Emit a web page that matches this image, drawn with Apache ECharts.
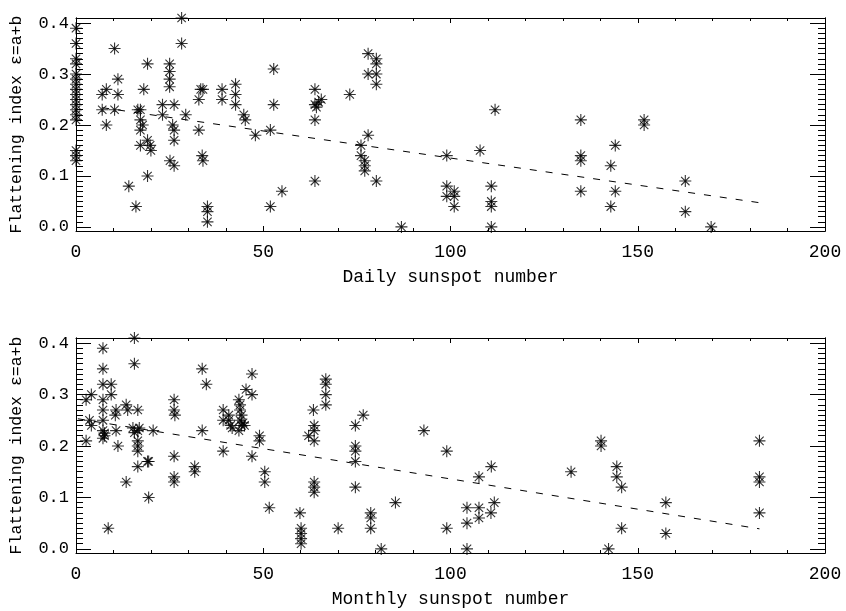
<!DOCTYPE html>
<html>
<head>
<meta charset="utf-8">
<script src="https://cdn.jsdelivr.net/npm/echarts@6/dist/echarts.min.js"></script>
<style>
  html, body { margin: 0; padding: 0; background: #fff; }
  #chart { width: 846px; height: 611px; }
</style>
</head>
<body>
<div id="chart"></div>
<script>
// flattening index vs daily sunspot number, [sunspot, epsilon]
const dailyPoints = [
  [0,0.39],[0,0.36],[0,0.33],[0,0.32],[0,0.30],[0,0.29],[0,0.28],[0,0.27],[0,0.26],
  [0,0.25],[0,0.24],[0,0.23],[0,0.22],[0,0.21],[0,0.15],[0,0.14],[0,0.13],
  [7.0,0.26],[8.1,0.27],[7.0,0.23],[8.1,0.20],[10.3,0.35],[11.2,0.29],[11.2,0.26],[10.3,0.23],
  [14.1,0.08],[16.0,0.04],[16.5,0.23],[17.2,0.23],[17.2,0.21],[17.8,0.20],[17.2,0.19],[17.2,0.16],
  [18.1,0.27],[19.1,0.32],[19.1,0.17],[19.8,0.16],[20.0,0.15],[19.1,0.10],[23.1,0.24],[23.1,0.22],
  [25.0,0.32],[25.0,0.305],[25.0,0.29],[25.0,0.275],[26.2,0.24],[25.8,0.20],[26.2,0.19],[26.2,0.17],
  [25.1,0.13],[26.2,0.12],[28.2,0.41],[28.2,0.36],[29.3,0.22],[32.8,0.25],[33.3,0.27],[33.9,0.27],
  [32.8,0.19],[33.7,0.14],[33.9,0.13],[35.1,0.04],[35.1,0.03],[35.1,0.01],[39.0,0.27],[39.0,0.25],
  [42.6,0.28],[42.6,0.26],[42.6,0.24],[44.8,0.22],[45.2,0.21],[47.9,0.18],[51.9,0.19],[51.9,0.04],
  [52.8,0.31],[52.8,0.24],[55.0,0.07],[63.8,0.27],[63.8,0.24],[64.2,0.235],[64.8,0.245],[65.5,0.25],
  [63.8,0.21],[63.8,0.09],[73.1,0.26],[78.0,0.34],[80.2,0.33],[80.2,0.32],[78.0,0.30],[80.2,0.30],
  [80.2,0.28],[78.0,0.18],[76.1,0.16],[76.1,0.14],[77.1,0.13],[77.1,0.12],[77.1,0.11],[80.2,0.09],
  [86.9,0.0],[99.0,0.14],[99.0,0.08],[99.0,0.06],[101.0,0.07],[101.0,0.06],[101.0,0.04],[107.9,0.15],
  [110.9,0.08],[110.9,0.05],[110.9,0.04],[110.9,0.0],[111.9,0.23],[134.8,0.21],[134.8,0.14],[134.8,0.13],
  [134.8,0.07],[144.0,0.16],[142.8,0.12],[144.0,0.07],[142.8,0.04],[151.7,0.21],[151.7,0.20],
  [162.7,0.09],[162.7,0.03],[169.6,0.0]
];

// flattening index vs monthly sunspot number
const monthlyPoints = [
  [2.7,0.29],[4.1,0.30],[2.7,0.21],[3.6,0.25],[4.1,0.24],
  [7.2,0.39],[7.2,0.35],[7.2,0.32],[9.4,0.32],[7.2,0.29],[9.4,0.30],[7.2,0.27],[7.2,0.25],
  [7.2,0.23],[7.6,0.225],[7.6,0.22],[7.2,0.215],[8.6,0.04],
  [10.7,0.27],[10.5,0.26],[10.7,0.23],[11.2,0.20],[13.4,0.28],[13.8,0.27],[13.4,0.13],
  [15.6,0.41],[15.6,0.36],[16.5,0.27],[15.2,0.235],[15.6,0.226],[16.5,0.23],[16.9,0.235],
  [16.5,0.21],[16.5,0.20],[16.5,0.19],[16.5,0.16],[19.1,0.17],[19.4,0.17],[19.4,0.10],[20.6,0.23],
  [26.2,0.29],[26.2,0.27],[26.4,0.26],[26.2,0.18],[26.2,0.14],[26.2,0.13],[31.7,0.16],[31.7,0.15],
  [33.7,0.35],[34.8,0.32],[33.7,0.23],
  [39.3,0.27],[39.3,0.25],[39.3,0.19],[40.8,0.26],[40.8,0.25],[41.3,0.24],[41.7,0.235],
  [43.5,0.29],[43.8,0.28],[43.8,0.27],[44.2,0.26],[43.8,0.25],[44.2,0.24],[43.5,0.23],[44.6,0.245],[45.0,0.24],
  [47.0,0.34],[45.4,0.31],[47.0,0.30],[47.0,0.18],[49.0,0.22],[49.0,0.21],[50.4,0.15],[50.4,0.13],[51.6,0.08],
  [59.8,0.07],[60.1,0.04],[60.1,0.03],[60.1,0.02],[60.1,0.01],
  [63.4,0.27],[63.6,0.24],[63.6,0.23],[63.6,0.21],[62.1,0.22],[63.6,0.13],[63.6,0.12],[63.6,0.11],
  [66.7,0.33],[66.7,0.32],[66.7,0.30],[66.7,0.28],[70.0,0.04],[74.6,0.24],[76.7,0.26],[74.6,0.20],
  [74.6,0.19],[74.6,0.17],[74.6,0.12],
  [78.7,0.07],[78.7,0.06],[78.7,0.04],[81.5,0.0],[85.3,0.09],[92.9,0.23],[99.0,0.19],[99.0,0.04],
  [104.4,0.08],[104.4,0.05],[104.4,0.0],[107.6,0.14],[107.6,0.08],[107.6,0.06],[110.9,0.16],
  [111.7,0.09],[110.8,0.07],
  [132.2,0.15],[140.2,0.21],[140.2,0.20],[144.4,0.16],[144.4,0.14],[145.7,0.12],[145.7,0.04],
  [142.2,0.0],[157.5,0.09],[157.5,0.03],
  [182.5,0.21],[182.5,0.14],[182.5,0.13],[182.5,0.07]
];

// fitted lines (end points)
const dailyFit = [[7, 0.234], [183, 0.047]];
const monthlyFit = [[0.5, 0.253], [182.5, 0.039]];

const yMajorTicks = [0, 0.1, 0.2, 0.3, 0.4];
const xTitles = ['Daily sunspot number', 'Monthly sunspot number'];
const yTitle = 'Flattening index \u03b5=a+b';

const FONT = 'Liberation Mono';
const yMinorTicks = [];
for (let i = 0; i <= 41; i++) yMinorTicks.push(+(i * 0.01).toFixed(2));

// asterisk like IDL psym=2, with a small filled core
const STAR = 'path://M0,5L10,5M5,0L5,10M1.5,1.5L8.5,8.5M8.5,1.5L1.5,8.5M4.3,4.3L5.7,4.3L5.7,5.7L4.3,5.7Z';

const line = { show: true, onZero: false, lineStyle: { color: '#000', width: 1 } };

function xAxes(g, title) {
  const base = {
    type: 'value', gridIndex: g, min: 0, max: 200, interval: 50,
    axisLine: line, splitLine: { show: false },
    axisTick: { inside: true, length: 5, lineStyle: { color: '#000' } },
    minorTick: { show: true, splitNumber: 5, length: 3, lineStyle: { color: '#000' } }
  };
  return [
    Object.assign({}, base, {
      position: 'bottom',
      axisLabel: { color: '#000', fontSize: 18, fontFamily: FONT, margin: 12 },
      name: title, nameLocation: 'middle', nameGap: 37,
      nameTextStyle: { color: '#000', fontSize: 18, fontFamily: FONT }
    }),
    Object.assign({}, base, { position: 'top', axisLabel: { show: false } })
  ];
}

function yAxes(g) {
  const base = {
    type: 'value', gridIndex: g, min: -0.008, max: 0.41,
    axisLine: line, splitLine: { show: false }
  };
  const major = { inside: true, length: 15, customValues: yMajorTicks, lineStyle: { color: '#000' } };
  const minor = { inside: true, length: 7, customValues: yMinorTicks, lineStyle: { color: '#000' } };
  return [
    Object.assign({}, base, {
      position: 'left', axisTick: major,
      axisLabel: { color: '#000', fontSize: 17, fontFamily: FONT, margin: 7,
        customValues: yMajorTicks, formatter: v => v.toFixed(1) },
      name: yTitle, nameLocation: 'middle', nameGap: 51,
      nameTextStyle: { color: '#000', fontSize: 16.5, fontFamily: FONT }
    }),
    Object.assign({}, base, { position: 'left', axisTick: minor, axisLabel: { show: false } }),
    Object.assign({}, base, { position: 'right', axisTick: major, axisLabel: { show: false } }),
    Object.assign({}, base, { position: 'right', axisTick: minor, axisLabel: { show: false } })
  ];
}

function scatter(data, xi, yi) {
  return {
    type: 'scatter', data: data, xAxisIndex: xi, yAxisIndex: yi,
    symbol: STAR, symbolSize: 12,
    itemStyle: { color: '#000', borderColor: '#000', borderWidth: 1.1 }
  };
}

function fit(data, xi, yi) {
  return {
    type: 'line', data: data, xAxisIndex: xi, yAxisIndex: yi,
    symbol: 'none', lineStyle: { color: '#000', width: 1, type: [7, 9] }
  };
}

const chart = echarts.init(document.getElementById('chart'));
chart.setOption({
  animation: false,
  backgroundColor: '#fff',
  grid: [
    { left: 73, right: 21, top: 18, height: 213 },
    { left: 73, right: 21, top: 338, height: 215 }
  ],
  xAxis: xAxes(0, xTitles[0]).concat(xAxes(1, xTitles[1])),
  yAxis: yAxes(0).concat(yAxes(1)),
  series: [
    scatter(dailyPoints, 0, 0),
    fit(dailyFit, 0, 0),
    scatter(monthlyPoints, 2, 4),
    fit(monthlyFit, 2, 4)
  ]
});
</script>
</body>
</html>
